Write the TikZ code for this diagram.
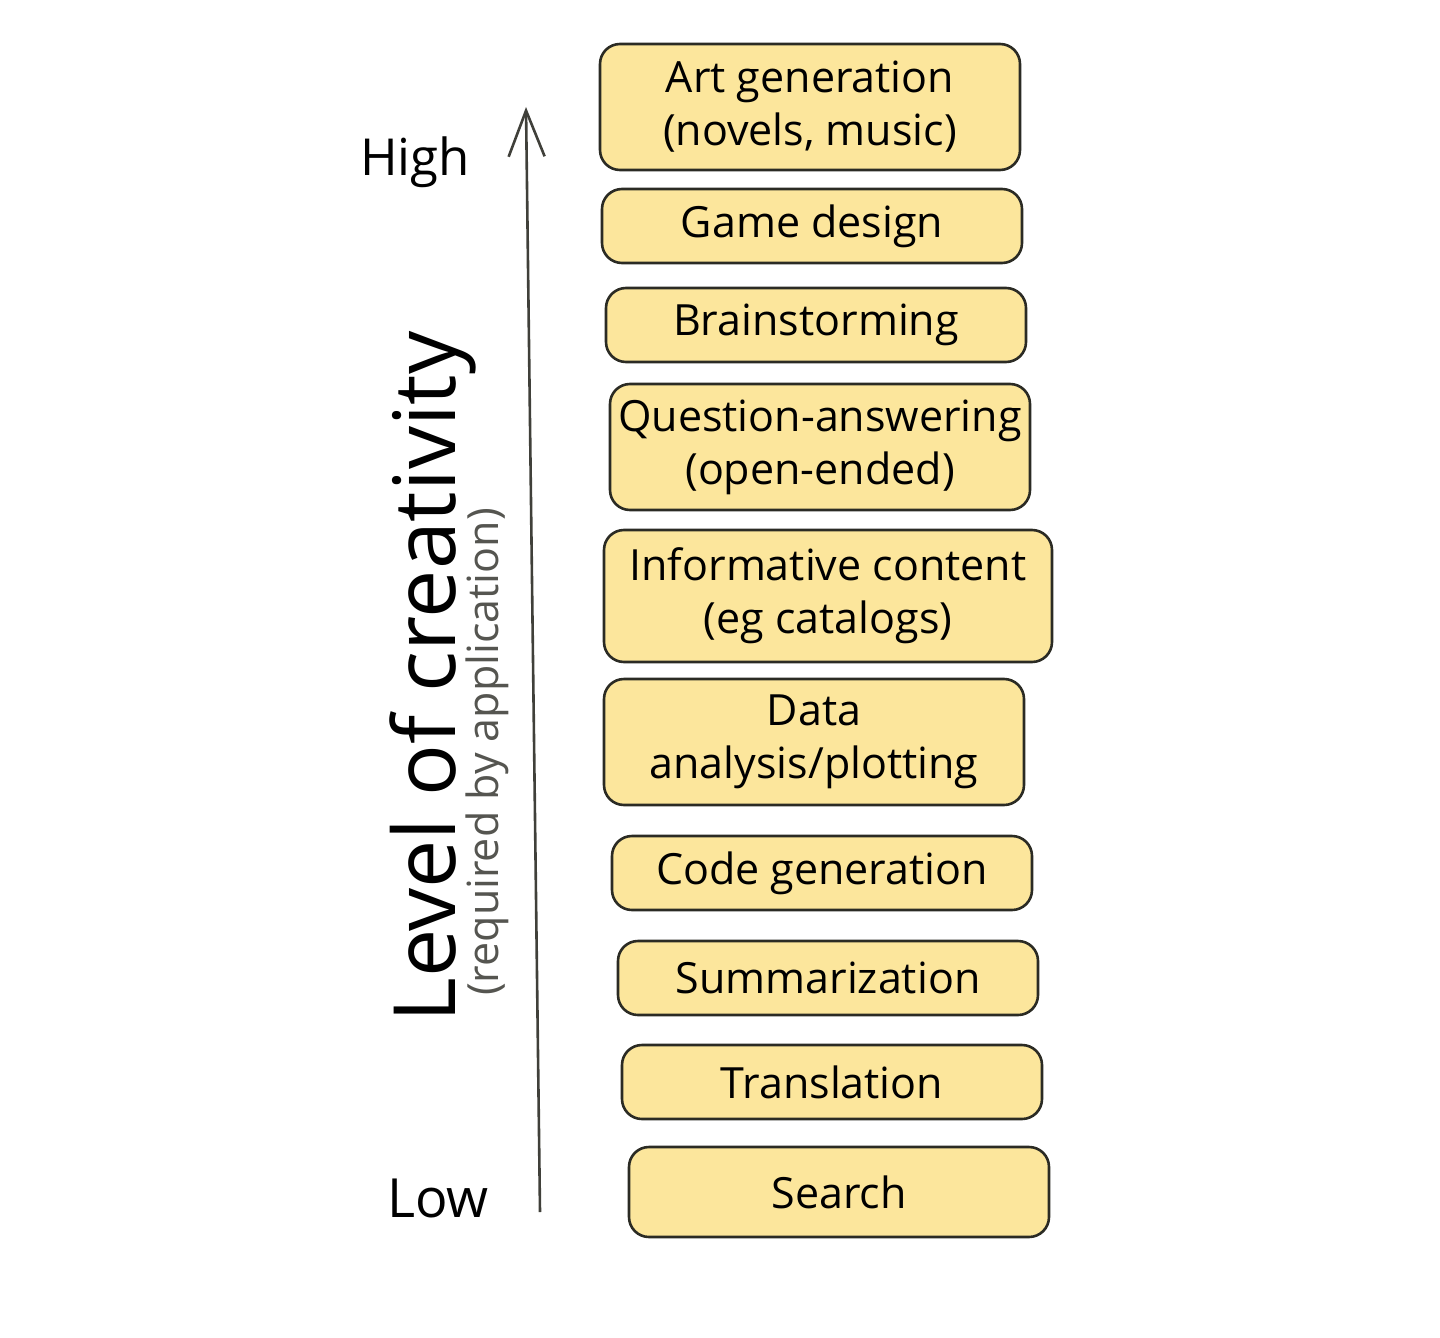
\documentclass[tikz,border=0pt]{standalone}
\usepackage{fontspec}
\setmainfont{Open Sans}
\usetikzlibrary{arrows.meta}
\definecolor{boxfill}{HTML}{FCE69C}
\definecolor{boxline}{HTML}{2B2B24}
\tikzset{>={Straight Barb[length=23pt,width=18pt]}}
\tikzset{
  task/.style={draw=boxline, line width=1.3pt, fill=boxfill, rounded corners=10pt,
    minimum width=210pt, align=center, font=\fontsize{21.5}{26.5}\selectfont, inner sep=0pt},
  single/.style={task, minimum height=37pt},
  double/.style={task, minimum height=63pt},
}

\begin{document}
\begin{tikzpicture}[x=0.5pt, y=-0.5pt]
      \useasboundingbox (0,0) rectangle (1440,1338);
      \node[double] (n0) at (810,107) {Art generation\\(novels, music)};
      \node[single] (n1) at (812,226) {Game design};
      \node[single] (n2) at (816,325) {Brainstorming};
      \node[double] (n3) at (820,447) {Question-answering\\(open-ended)};
      \node[double, minimum width=224pt, minimum height=66pt] (n4) at (828,596) {Informative content\\(eg catalogs)};
      \node[double] (n5) at (814,742) {Data\\analysis/plotting};
      \node[single] (n6) at (822,873) {Code generation};
      \node[single] (n7) at (828,978) {Summarization};
      \node[single] (n8) at (832,1082) {Translation};
      \node[single, minimum height=45pt] (n9) at (839,1192) {Search};
      % creativity axis
      \coordinate (low) at (540,1212);
      \coordinate (high) at (526,107);
      \draw[->, draw=boxline!90, line width=1.3pt] (low) to (high);
      \node[font=\fontsize{25.5}{30}\selectfont] (hi) at (415,162) {High};
      \node[font=\fontsize{27}{32}\selectfont] (lo) at (438,1198) {Low};
      \node[rotate=90, font=\fontsize{43}{50}\selectfont] (lvl) at (433,677) {Level of creativity};
      \node[rotate=90, text=boxline!80, font=\fontsize{21.5}{25}\selectfont] (req) at (487,752) {(required by application)};
\end{tikzpicture}
\end{document}
